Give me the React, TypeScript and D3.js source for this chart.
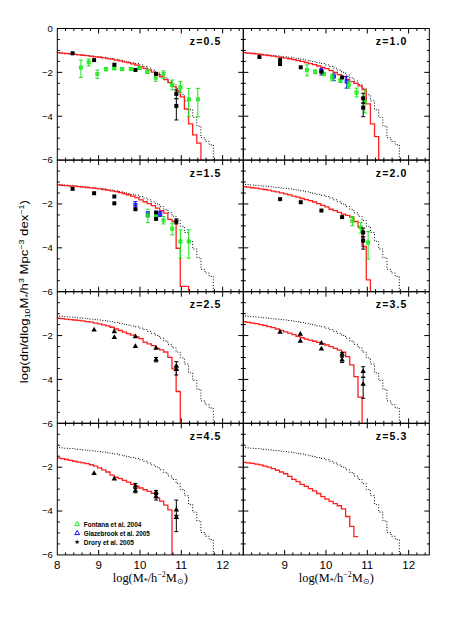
import React from 'react';
import * as d3 from 'd3';

// ---------- data ----------
const BIN_START = 7.975;
const BIN_WIDTH = 0.1;

type Pt = [number, number, number | null, number | null]; // [logM, value, errHigh, errLow]

const referenceDotted = [
  -1.11, -1.12, -1.14, -1.15, -1.17, -1.19, -1.21, -1.23, -1.25, -1.27,
  -1.29, -1.31, -1.34, -1.37, -1.40, -1.44, -1.48, -1.52, -1.56, -1.60,
  -1.66, -1.73, -1.81, -1.90, -2.00, -2.12, -2.25, -2.40, -2.56, -2.75,
  -3.02, -3.30, -3.70, -4.05, -4.45, -4.98, -5.15, -5.30,
];

const modelZ05 = [
  -1.10, -1.12, -1.14, -1.16, -1.18, -1.20, -1.22, -1.24, -1.27, -1.29,
  -1.31, -1.34, -1.37, -1.40, -1.44, -1.48, -1.52, -1.56, -1.61, -1.67,
  -1.74, -1.82, -1.90, -1.99, -2.09, -2.20, -2.33, -2.47, -2.65, -2.85,
  -3.12, -3.67, -4.35, -4.85, -5.23,
];
const modelZ10 = [
  -1.10, -1.12, -1.14, -1.16, -1.18, -1.21, -1.23, -1.26, -1.29, -1.32,
  -1.35, -1.38, -1.42, -1.46, -1.50, -1.55, -1.60, -1.65, -1.71, -1.77,
  -1.83, -1.92, -2.00, -2.10, -2.19, -2.32, -2.42, -2.50, -2.62, -2.78,
  -3.44, -4.35, -4.93,
];
const modelZ15 = [
  -1.13, -1.15, -1.16, -1.18, -1.19, -1.21, -1.23, -1.25, -1.27, -1.29,
  -1.31, -1.34, -1.37, -1.40, -1.44, -1.48, -1.53, -1.58, -1.64, -1.71,
  -1.81, -1.90, -1.98, -2.08, -2.19, -2.30, -2.42, -2.70, -2.80, -4.02,
  -5.76, -5.76,
];
const modelZ20 = [
  -1.21, -1.23, -1.26, -1.28, -1.31, -1.34, -1.37, -1.41, -1.45, -1.49,
  -1.54, -1.59, -1.64, -1.69, -1.75, -1.80, -1.85, -1.91, -1.98, -2.06,
  -2.13, -2.24, -2.30, -2.38, -2.46, -2.52, -2.60, -2.80, -3.06, -3.94,
  -5.46,
];
const modelZ25 = [
  -1.21, -1.23, -1.25, -1.27, -1.29, -1.31, -1.33, -1.36, -1.39, -1.43,
  -1.47, -1.51, -1.56, -1.62, -1.70, -1.77, -1.84, -1.91, -1.98, -2.06,
  -2.14, -2.30, -2.38, -2.46, -2.58, -2.65, -2.75, -2.99, -3.52, -4.55,
];
const modelZ35 = [
  -1.37, -1.40, -1.43, -1.46, -1.50, -1.54, -1.59, -1.64, -1.70, -1.76,
  -1.83, -1.89, -1.96, -2.03, -2.10, -2.16, -2.21, -2.26, -2.31, -2.37,
  -2.43, -2.50, -2.58, -2.66, -2.76, -2.96, -3.34, -3.87, -4.81,
];
const modelZ45 = [
  -1.58, -1.61, -1.65, -1.69, -1.73, -1.77, -1.80, -1.84, -1.89, -1.95,
  -2.03, -2.12, -2.22, -2.36, -2.46, -2.52, -2.60, -2.68, -2.78, -2.86,
  -2.95, -3.03, -3.10, -3.19, -3.40, -3.55, -3.73, -3.95,
];
const modelZ53 = [
  -1.78, -1.80, -1.83, -1.86, -1.90, -1.95, -2.00, -2.07, -2.14, -2.22,
  -2.30, -2.42, -2.56, -2.66, -2.78, -2.88, -2.98, -3.08, -3.20, -3.34,
  -3.46, -3.56, -3.66, -3.76, -3.90, -4.25, -4.70, -5.17,
];

const fontanaZ05: Pt[] = [
  [8.57, -1.78, -1.44, -2.23], [8.76, -1.54, -1.39, -1.71], [8.97, -2.07, -1.89, -2.27],
  [9.18, -1.85, -1.78, -1.93], [9.38, -1.81, -1.75, -1.88], [9.57, -1.85, -1.79, -1.91],
  [9.78, -1.85, -1.79, -1.91], [9.99, -1.81, -1.75, -1.87], [10.18, -1.97, -1.90, -2.05],
  [10.38, -2.24, -2.09, -2.41], [10.57, -2.07, -1.93, -2.27], [10.78, -2.57, -2.35, -2.80],
  [10.98, -2.68, -2.42, -2.92], [11.18, -3.23, -2.73, -4.02], [11.40, -3.23, -2.73, -4.02],
];
const droryZ05: Pt[] = [
  [8.37, -1.13, null, null], [8.89, -1.44, null, null], [9.38, -1.65, null, null],
  [9.89, -1.89, null, null], [10.39, -2.07, null, null],
  [10.88, -2.98, -2.80, -3.20], [10.88, -3.53, -3.20, -4.17],
];
const glazeZ05: Pt[] = [];

const fontanaZ10: Pt[] = [
  [9.54, -1.89, -1.66, -2.16], [9.74, -1.97, -1.90, -2.05], [9.95, -2.07, -2.00, -2.15],
  [10.15, -2.23, -2.08, -2.38], [10.35, -2.38, -2.30, -2.46], [10.55, -2.57, -2.42, -2.72],
  [10.74, -2.92, -2.72, -3.12], [10.94, -3.33, -2.81, -3.85],
];
const glazeZ10: Pt[] = [
  [9.89, -1.94, -1.82, -2.12], [10.19, -2.19, -2.07, -2.38], [10.50, -2.42, -2.19, -2.72],
];
const droryZ10: Pt[] = [
  [8.39, -1.30, null, null], [8.89, -1.44, null, null], [8.89, -1.62, null, null],
  [9.39, -1.77, null, null], [9.89, -1.97, null, null], [10.39, -2.23, null, null],
  [10.90, -3.18, -2.95, -3.40], [10.90, -3.61, -3.40, -4.02],
];

const fontanaZ15: Pt[] = [
  [10.19, -2.53, -2.24, -2.85], [10.39, -2.57, -2.42, -2.72], [10.57, -2.75, -2.57, -2.91],
  [10.78, -3.13, -2.88, -3.41], [10.98, -3.71, -3.18, -4.47], [11.18, -3.71, -3.18, -4.47],
];
const glazeZ15: Pt[] = [
  [9.89, -2.04, -1.89, -2.19], [10.19, -2.47, -2.35, -2.57], [10.49, -2.47, -2.35, -2.57],
];
const droryZ15: Pt[] = [
  [8.37, -1.31, null, null], [8.89, -1.51, null, null], [9.38, -1.66, null, null],
  [9.38, -1.97, null, null], [9.89, -2.24, null, null], [10.39, -2.39, null, null],
  [10.39, -2.68, null, null], [10.88, -2.80, -2.68, -2.91],
];

const fontanaZ20: Pt[] = [
  [10.64, -2.77, -2.57, -2.99], [10.84, -3.07, -2.85, -3.33], [11.02, -3.76, -3.26, -4.52],
];
const glazeZ20: Pt[] = [];
const droryZ20: Pt[] = [
  [8.89, -1.78, null, null], [9.39, -1.92, null, null], [9.89, -2.30, null, null],
  [10.39, -2.60, null, null], [10.90, -3.30, -3.10, -3.50], [10.90, -3.67, -3.50, -4.06],
];

const droryZ25: Pt[] = [
  [8.89, -1.74, null, null], [9.38, -1.82, null, null], [9.38, -2.08, null, null],
  [9.89, -2.05, null, null], [9.89, -2.50, null, null], [10.39, -2.58, null, null],
  [10.39, -3.10, -3.00, -3.20], [10.88, -3.39, -3.19, -3.54], [10.88, -3.54, -3.39, -3.80],
];
const droryZ35: Pt[] = [
  [8.89, -1.85, null, null], [9.38, -1.94, null, null], [9.38, -2.25, null, null],
  [9.89, -2.35, null, null], [9.89, -2.61, null, null], [10.39, -2.85, -2.78, -2.97],
  [10.39, -3.11, -2.97, -3.23], [10.90, -3.64, -3.42, -3.90], [10.90, -4.22, -3.90, -4.86],
];
const droryZ45: Pt[] = [
  [8.89, -2.28, null, null], [9.38, -2.54, null, null], [9.89, -2.86, -2.74, -2.96],
  [9.89, -3.07, -2.96, -3.17], [10.39, -3.15, -3.07, -3.25], [10.39, -3.35, -3.25, -3.50],
  [10.88, -3.95, -3.50, -4.20], [10.88, -4.29, -4.20, -4.94],
];
const empty: Pt[] = [];

const panelLabels = ['z=0.5', 'z=1.0', 'z=1.5', 'z=2.0', 'z=2.5', 'z=3.5', 'z=4.5', 'z=5.3'];
const models = [modelZ05, modelZ10, modelZ15, modelZ20, modelZ25, modelZ35, modelZ45, modelZ53];
const modelDrops = [true, true, true, true, true, true, true, false];
const fontanaSets = [fontanaZ05, fontanaZ10, fontanaZ15, fontanaZ20, empty, empty, empty, empty];
const glazeSets = [glazeZ05, glazeZ10, glazeZ15, glazeZ20, empty, empty, empty, empty];
const drorySets = [droryZ05, droryZ10, droryZ15, droryZ20, droryZ25, droryZ35, droryZ45, empty];
const droryShapes = ['square', 'square', 'square', 'square', 'triangle', 'triangle', 'triangle', 'square'];

const xTickLabelsLeft = [8, 9, 10, 11, 12];
const xTickLabelsRight = [9, 10, 11, 12];
const yTickLabelsTop = [0, -2, -4, -6];
const yTickLabelsOther = [-2, -4, -6];
const legendNames = ['Fontana et al. 2004', 'Glazebrook et al. 2005', 'Drory et al. 2005'];

// ---------- layout ----------
const W = 469, H = 632;
const COL_X = [57.3, 243.3];
const COL_W = 186;
const ROW_TOP = 28.5;
const ROW_H = 131.6;
const SANS = 'Liberation Sans, Arial, Helvetica, sans-serif';
const SERIF = 'Liberation Serif, Times New Roman, serif';
const RED = '#ff1f1f';
const GREEN = '#1be81b';
const BLUE = '#1010ff';

function stepPoints(vals: number[], drop: boolean): [number, number][] {
  const pts: [number, number][] = vals.map((v, i) => [BIN_START + i * BIN_WIDTH, v]);
  const end = BIN_START + vals.length * BIN_WIDTH;
  pts.push([end, vals[vals.length - 1]]);
  if (drop) pts.push([end, -7]);
  return pts;
}

const fmt = (v: number) => (v < 0 ? '\u2212' + Math.abs(v) : String(v));

function Points({ data, x, y, color, shape, key0 }: any) {
  const tri = d3.symbol(d3.symbolTriangle, 13)() as string;
  return (
    <g>
      {data.map((d: Pt, i: number) => {
        const px = x(d[0]), py = y(d[1]);
        return (
          <g key={key0 + i}>
            {d[2] !== null && d[3] !== null && (
              <g stroke={color} strokeWidth={1}>
                <line x1={px} x2={px} y1={y(d[2])} y2={y(d[3])} />
                <line x1={px - 2} x2={px + 2} y1={y(d[2])} y2={y(d[2])} />
                <line x1={px - 2} x2={px + 2} y1={y(d[3])} y2={y(d[3])} />
              </g>
            )}
            {shape === 'square' && (
              <rect x={px - 2} y={py - 2} width={4} height={4} fill={color} />
            )}
            {shape === 'triangle' && (
              <path d={tri} transform={`translate(${px},${py})`} fill={color} />
            )}
            {shape === 'small' && (
              <rect x={px - 1.6} y={py - 1.6} width={3.2} height={3.2} fill={color} fillOpacity={0.7} stroke={color} strokeWidth={0.8} />
            )}
          </g>
        );
      })}
    </g>
  );
}

function Panel({ idx }: { idx: number }) {
  const col = idx % 2, row = Math.floor(idx / 2);
  const x0 = COL_X[col];
  const top = ROW_TOP + row * ROW_H;
  const x = d3.scaleLinear().domain([8, 12.5]).range([x0, x0 + COL_W]);
  const y = d3.scaleLinear().domain([-6, 0]).range([top + ROW_H, top]);
  const line = d3.line<[number, number]>().x(d => x(d[0])).y(d => y(d[1])).curve(d3.curveStepAfter);
  const clipId = `clip${idx}`;

  const xTicks = d3.range(8.2, 12.45, 0.2);
  const yTicks = d3.range(-5.5, 0, 0.5);
  const isInt = (t: number) => Math.abs(t - Math.round(t)) < 1e-6;
  const isEven = (t: number) => isInt(t) && Math.round(t) % 2 === 0;

  const bottom = top + ROW_H, right = x0 + COL_W;
  const xLabels = col === 0 ? xTickLabelsLeft : xTickLabelsRight;
  const yLabels = row === 0 ? yTickLabelsTop : yTickLabelsOther;

  return (
    <g>
      <defs>
        <clipPath id={clipId}>
          <rect x={x0} y={top} width={COL_W} height={ROW_H} />
        </clipPath>
      </defs>
      <g clipPath={`url(#${clipId})`}>
        <path d={line(stepPoints(referenceDotted, true)) as string} fill="none" stroke="#000" strokeWidth={1} strokeDasharray="1,1.8" />
        <path d={line(stepPoints(models[idx], modelDrops[idx])) as string} fill="none" stroke={RED} strokeWidth={1.3} />
        <Points data={glazeSets[idx]} x={x} y={y} color={BLUE} shape="small" key0="g" />
        <Points data={fontanaSets[idx]} x={x} y={y} color={GREEN} shape="small" key0="f" />
        <Points data={drorySets[idx]} x={x} y={y} color="#000" shape={droryShapes[idx]} key0="d" />
      </g>
      <rect x={x0} y={top} width={COL_W} height={ROW_H} fill="none" stroke="#000" strokeWidth={1} />
      <g stroke="#000" strokeWidth={1}>
        {xTicks.map((t, i) => {
          const len = isInt(t) ? 5 : 2.5;
          const px = x(t);
          return (
            <g key={'xt' + i}>
              <line x1={px} x2={px} y1={top} y2={top + len} />
              <line x1={px} x2={px} y1={bottom} y2={bottom - len} />
            </g>
          );
        })}
        {yTicks.map((t, i) => {
          const len = isEven(t) ? 5 : 2.5;
          const py = y(t);
          return (
            <g key={'yt' + i}>
              <line x1={x0} x2={x0 + len} y1={py} y2={py} />
              <line x1={right} x2={right - len} y1={py} y2={py} />
            </g>
          );
        })}
      </g>
      <text x={right - 23} y={top + 16.5} textAnchor="end" fontFamily={SANS} fontWeight="bold" fontSize={10.5} textLength={30.5} lengthAdjust="spacing">
        {panelLabels[idx]}
      </text>
      {col === 0 && yLabels.map(v => (
        <text key={'yl' + v} x={x0 - 4.5} y={y(v)} dy="0.35em" textAnchor="end" fontFamily={SANS} fontSize={9.5}>
          {fmt(v)}
        </text>
      ))}
      {row === 3 && xLabels.map(v => (
        <text key={'xl' + v} x={x(v)} y={bottom + 14.5} textAnchor="middle" fontFamily={SANS} fontSize={11.5}>
          {v}
        </text>
      ))}
      {row === 3 && (
        <text x={x0 + COL_W / 2} y={bottom + 27} textAnchor="middle" fontFamily={SERIF} fontSize={12.5} textLength={75} lengthAdjust="spacingAndGlyphs">
          log(M<tspan dy={2.5} fontSize={8}>*</tspan><tspan dy={-2.5}>/h</tspan><tspan dy={-4.5} fontSize={8}>{'\u22122'}</tspan><tspan dy={4.5}>M</tspan><tspan dy={2.5} fontSize={8}>{'\u2299'}</tspan><tspan dy={-2.5}>)</tspan>
        </text>
      )}
      {idx === 6 && <Legend x0={x(8.48)} y0={top + 101} />}
    </g>
  );
}

function Legend({ x0, y0 }: { x0: number; y0: number }) {
  const tri = d3.symbol(d3.symbolTriangle, 10)() as string;
  const star = d3.symbol(d3.symbolStar, 8)() as string;
  const colors = [GREEN, BLUE, '#000'];
  return (
    <g>
      {legendNames.map((name, i) => {
        const yy = y0 + i * 8.9;
        return (
          <g key={name}>
            {i < 2 ? (
              <path d={tri} transform={`translate(${x0},${yy})`} fill="none" stroke={colors[i]} strokeWidth={1} />
            ) : (
              <path d={star} transform={`translate(${x0},${yy})`} fill="#000" />
            )}
            <text x={x0 + 6.7} y={yy + 2.4} fontFamily={SANS} fontSize={6.6} fontWeight="bold" textLength={i === 0 ? 57.5 : i === 1 ? 66 : 50} lengthAdjust="spacingAndGlyphs" fill="#000">
              {name}
            </text>
          </g>
        );
      })}
    </g>
  );
}

export default function App() {
  return (
    <div style={{ position: 'fixed', left: 0, top: 0, background: '#fff' }}>
      <svg width={W} height={H} viewBox={`0 0 ${W} ${H}`} style={{ display: 'block' }}>
        <rect x={0} y={0} width={W} height={H} fill="#fff" />
        {d3.range(8).map(i => <Panel key={i} idx={i} />)}
        <text transform={`translate(27.5,${ROW_TOP + 2 * ROW_H}) rotate(-90)`} textAnchor="middle" fontFamily={SANS} fontSize={11} textLength={183} lengthAdjust="spacingAndGlyphs">
          log(dn/dlog<tspan dy={2.5} fontSize={7.5}>10</tspan><tspan dy={-2.5}>M</tspan><tspan dy={2.5} fontSize={7.5}>*</tspan><tspan dy={-2.5}>/h</tspan><tspan dy={-4} fontSize={7.5}>3</tspan><tspan dy={4}> Mpc</tspan><tspan dy={-4} fontSize={7.5}>{'\u22123'}</tspan><tspan dy={4}> dex</tspan><tspan dy={-4} fontSize={7.5}>{'\u22121'}</tspan><tspan dy={4}>)</tspan>
        </text>
      </svg>
    </div>
  );
}
